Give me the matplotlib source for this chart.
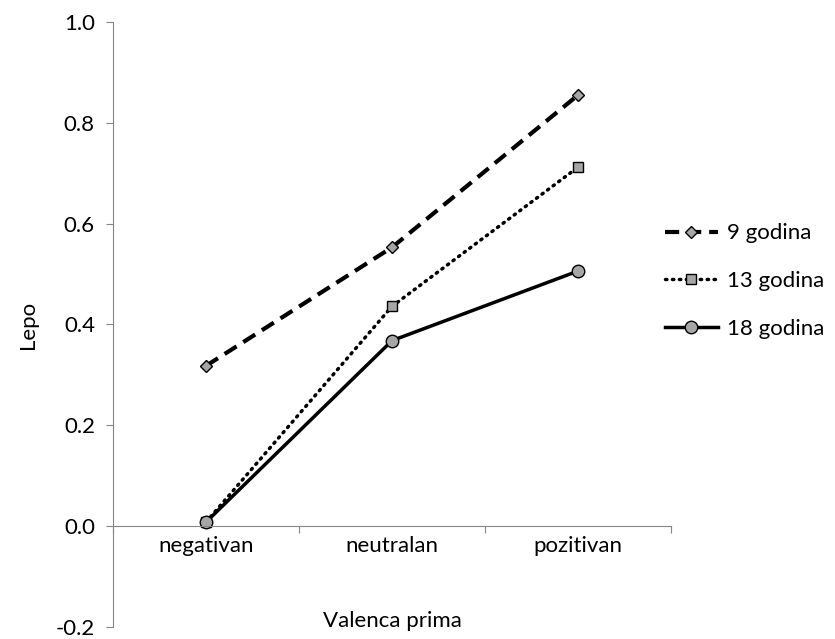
import numpy as np
import matplotlib.pyplot as plt

plt.rcParams['font.family'] = ['Lato', 'DejaVu Sans']

categories = ['negativan', 'neutralan', 'pozitivan']
g9 = [0.318, 0.553, 0.855]
g13 = [0.008, 0.436, 0.712]
g18 = [0.008, 0.368, 0.506]
labels = ['9 godina', '13 godina', '18 godina']

axis_gray = '#868686'
marker_gray = '#a6a6a6'
fs = 16

fig = plt.figure(figsize=(8.35, 6.39), dpi=100)
ax = fig.add_axes([113 / 835, 1 - 627 / 639, (671 - 113) / 835, (627 - 22) / 639])

x = np.arange(1, len(categories) + 1)
ax.plot(x, g9, color='black', lw=3, dashes=(3.4, 1.9), marker='D', ms=6,
        mfc=marker_gray, mec='black', mew=1, label=labels[0])
ax.plot(x, g13, color='black', lw=2.5, ls=(0, (0.4, 1.6)), dash_capstyle='round',
        marker='s', ms=7, mfc=marker_gray, mec='black', mew=1, label=labels[1])
ax.plot(x, g18, color='black', lw=2.5, marker='o', ms=9,
        mfc=marker_gray, mec='black', mew=1, label=labels[2])

ax.set_xlim(0.5, 3.5)
ax.set_ylim(-0.2, 1.0)
ax.set_yticks(np.arange(-0.2, 1.01, 0.2))
ax.set_yticklabels(['%.1f' % v for v in np.arange(-0.2, 1.01, 0.2)])

ax.set_xticks([0.5, 1.5, 2.5, 3.5])
ax.set_xticklabels([])
ax.set_xticks(x, minor=True)
ax.set_xticklabels(categories, minor=True)
ax.tick_params(axis='x', which='minor', length=0, pad=7, labelsize=fs)
ax.tick_params(axis='x', which='major', length=5, direction='out', color=axis_gray)
ax.tick_params(axis='y', length=5, direction='out', color=axis_gray, labelsize=fs, pad=8)

for side in ['top', 'right']:
    ax.spines[side].set_visible(False)
ax.spines['bottom'].set_position(('data', 0))
ax.spines['bottom'].set_color(axis_gray)
ax.spines['left'].set_color(axis_gray)

ax.set_ylabel('Lepo', fontsize=fs, labelpad=13)
ax.set_xlabel('Valenca prima', fontsize=fs, va='center')
ax.xaxis.set_label_coords(0.5, 0.01)

fig.legend(loc='center left', bbox_to_anchor=(0.772, 0.56), frameon=False,
           fontsize=fs, handlelength=2.4, labelspacing=1.25, handletextpad=0.4)

plt.savefig('out.png', dpi=100)
